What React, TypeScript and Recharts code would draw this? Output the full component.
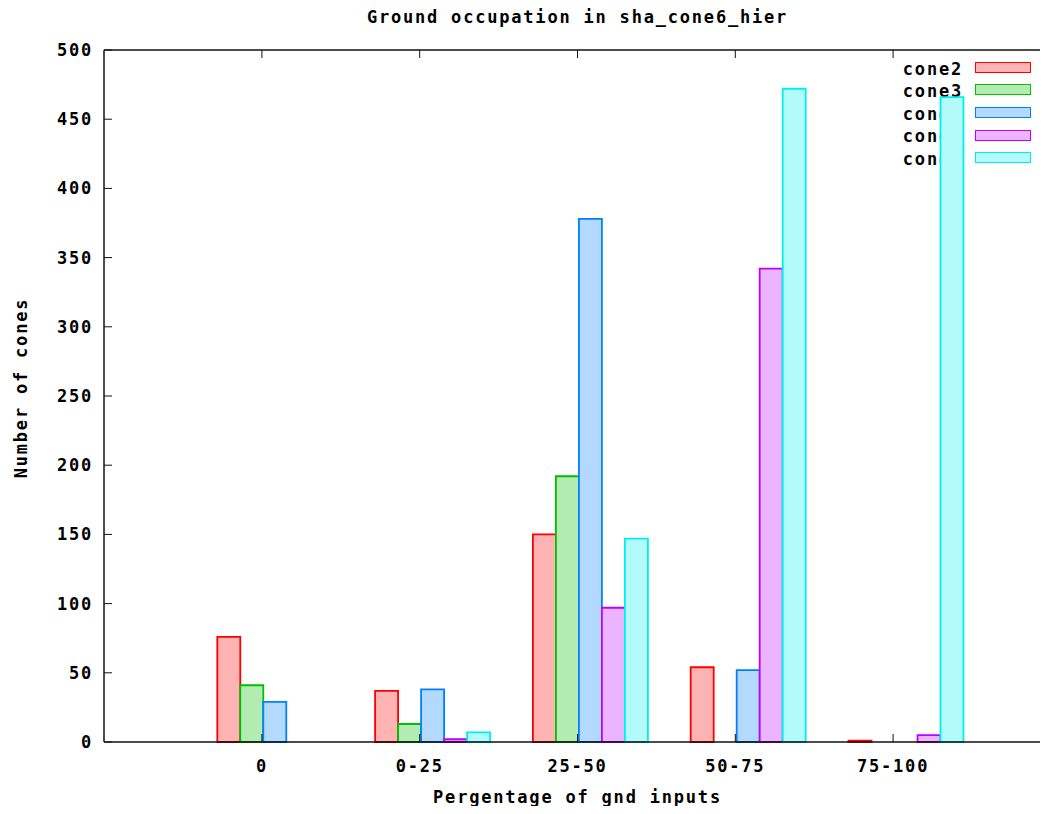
import React from 'react';
import { BarChart, Bar, XAxis, YAxis, Legend } from 'recharts';

const categories = ['0', '0-25', '25-50', '50-75', '75-100'];
const cone2 = [76, 37, 150, 54, 1];
const cone3 = [41, 13, 192, 0, 0];
const cone4 = [29, 38, 378, 52, 0];
const cone5 = [0, 2, 97, 342, 5];
const cone6 = [0, 7, 147, 472, 466];
const yTicks = [0, 50, 100, 150, 200, 250, 300, 350, 400, 450, 500];
const seriesNames = ['cone2', 'cone3', 'cone4', 'cone5', 'cone6'];
const seriesValues = [cone2, cone3, cone4, cone5, cone6];
const strokes = ['#ff0000', '#00c000', '#0080ff', '#c000ff', '#00eeee'];
const fills = ['#ffb3b3', '#b3ecb3', '#b3d9ff', '#ecb3ff', '#b3fafa'];

const title = 'Ground occupation in sha_cone6_hier';
const xTitle = 'Pergentage of gnd inputs';
const yTitle = 'Number of cones';

const data = categories.map((c, i) => {
  const row: Record<string, any> = { category: c };
  seriesNames.forEach((n, j) => {
    row[n] = seriesValues[j][i];
  });
  return row;
});

const FONT = '"DejaVu Sans Mono", monospace';
const textStyle: React.CSSProperties = {
  fontFamily: FONT,
  fontWeight: 'bold',
  fontSize: 17,
  letterSpacing: '1.8px',
};

const renderLegend = () => (
  <div style={{ ...textStyle, color: '#000' }}>
    {seriesNames.map((n, j) => (
      <div key={n} style={{ display: 'flex', alignItems: 'center', height: 22.6 }}>
        <span style={{ width: 83, textAlign: 'right', lineHeight: '22.6px', paddingTop: 3 }}>{n}</span>
        <span
          style={{
            marginLeft: 12,
            width: 56,
            height: 11,
            boxSizing: 'border-box',
            border: `1.8px solid ${strokes[j]}`,
            background: fills[j],
            display: 'inline-block',
          }}
        />
      </div>
    ))}
  </div>
);

const renderYLabel = (props: any) => {
  const vb = props.viewBox || { x: 0, y: 50, width: 104, height: 692 };
  const cx = vb.x + 21;
  const cy = vb.y + vb.height / 2 - 8;
  return (
    <text
      x={cx}
      y={cy}
      transform={`rotate(-90 ${cx} ${cy})`}
      textAnchor="middle"
      dominantBaseline="central"
      style={textStyle}
      fill="#000"
    >
      {yTitle}
    </text>
  );
};

const renderTitle = (props: any) => {
  const vb = props.viewBox || { x: 104, y: 49, width: 947, height: 1 };
  const cx = vb.x + vb.width / 2;
  return (
    <text x={cx} y={23} textAnchor="middle" style={textStyle} fill="#000">
      {title}
    </text>
  );
};

const axisLine = { stroke: '#111', strokeWidth: 1.5 };
const tickStyle = { fill: '#000', fontSize: 17, fontWeight: 'bold', fontFamily: FONT, style: { letterSpacing: '1.8px' } };

export default function App() {
  return (
    <div style={{ margin: -8, width: 1048, height: 814, overflow: 'hidden', position: 'relative' }}>
      <BarChart
        width={1060}
        height={814}
        data={data}
        margin={{ top: 49, right: 9, bottom: 0, left: 0 }}
        barCategoryGap={11.3}
        barGap={0}
        style={textStyle}
      >
        <XAxis
          dataKey="category"
          height={72}
          padding={{ left: 79, right: 79 }}
          tickSize={-8}
          tickMargin={26}
          axisLine={axisLine}
          tickLine={{ stroke: '#111' }}
          tick={tickStyle}
          interval={0}
          label={{ value: xTitle, position: 'insideBottom', offset: 11, fill: '#000', style: textStyle }}
        />
        <XAxis
          xAxisId="top"
          orientation="top"
          dataKey="category"
          height={1}
          padding={{ left: 79, right: 79 }}
          tickSize={-8}
          axisLine={axisLine}
          tickLine={{ stroke: '#111' }}
          tick={() => <g />}
          interval={0}
          label={renderTitle}
        />
        <YAxis
          width={104}
          domain={[0, 500]}
          ticks={yTicks}
          interval={0}
          tickSize={-8}
          tickMargin={19}
          axisLine={axisLine}
          tickLine={{ stroke: '#111' }}
          tick={tickStyle}
          label={renderYLabel}
        />
        <Legend
          layout="vertical"
          align="center"
          verticalAlign="middle"
          content={renderLegend}
          wrapperStyle={{ position: 'absolute', left: 880, top: 56, width: 165, height: 115, zIndex: -1 }}
        />
        <Bar dataKey="gap" legendType="none" isAnimationActive={false} fill="none" stroke="none" />
        {seriesNames.map((n, j) => (
          <Bar
            key={n}
            dataKey={n}
            name={n}
            fill={fills[j]}
            stroke={strokes[j]}
            strokeWidth={1.8}
            isAnimationActive={false}
          />
        ))}
      </BarChart>
    </div>
  );
}
